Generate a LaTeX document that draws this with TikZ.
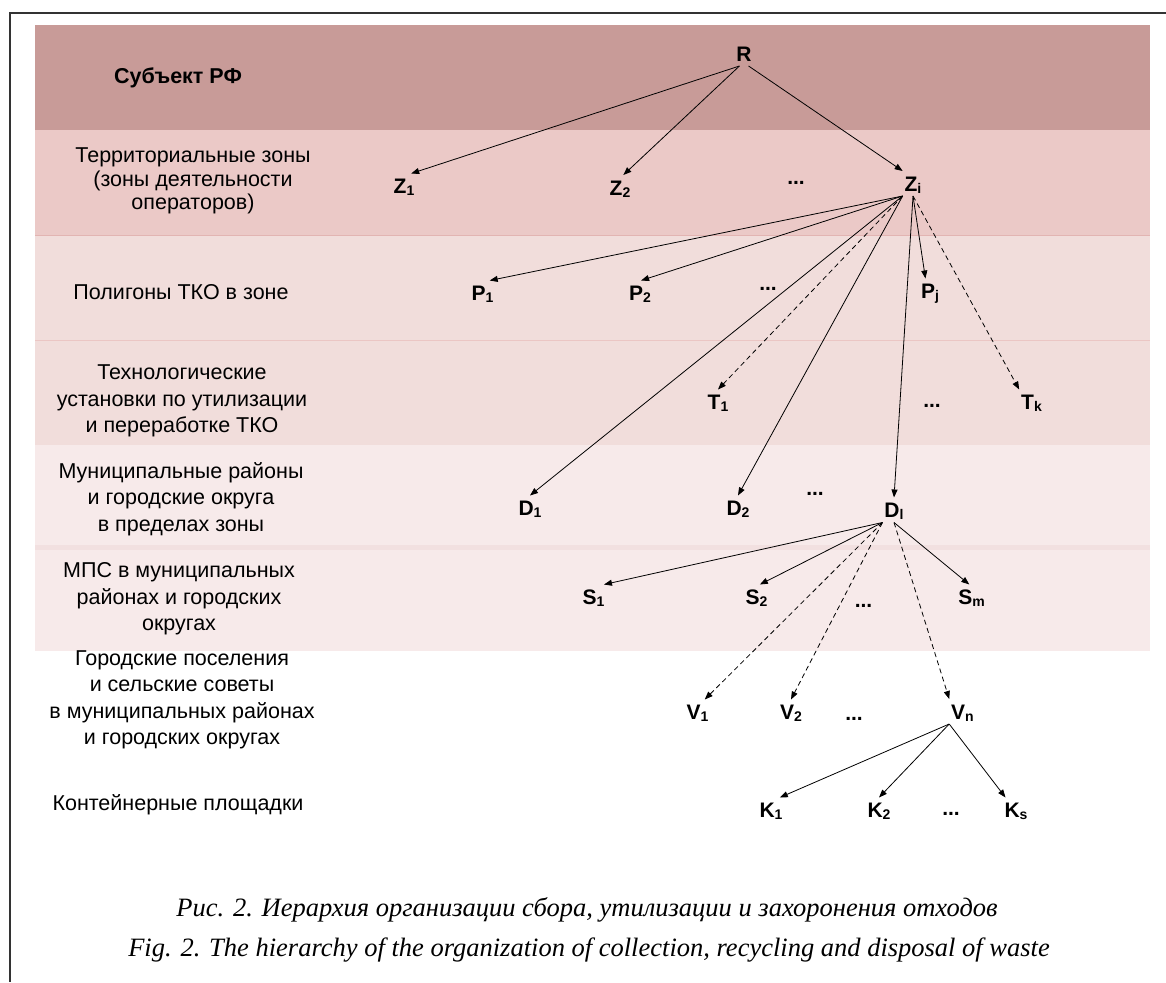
\documentclass[tikz,border=0pt]{standalone}
\usepackage{fontspec}
\setmainfont{Liberation Sans}
\newfontfamily\capfont{Liberation Serif}
\usetikzlibrary{arrows.meta}
\definecolor{bandA}{HTML}{C89B98}
\definecolor{bandB}{HTML}{EBC9C7}
\definecolor{bandC}{HTML}{F1DDDB}
\definecolor{bandD}{HTML}{F7EAEA}
\definecolor{stripD}{HTML}{F2E0E0}
\definecolor{sepB}{HTML}{E2B4B2}
\definecolor{sepC}{HTML}{EBC6C4}
\definecolor{framec}{HTML}{333333}
\newcommand{\lsub}[2]{#1\raisebox{-2pt}{\fontsize{14}{14}\selectfont #2}}
\tikzset{
  nd/.style={font=\bfseries\fontsize{21}{21}\selectfont, inner xsep=2pt, inner ysep=5pt, outer sep=0pt, text height=15pt, text depth=0pt},
  dots/.style={font=\bfseries\fontsize{21}{21}\selectfont, inner sep=0pt, anchor=base},
  lbl/.style={font=\fontsize{21.5}{26.5}\selectfont, align=center, inner sep=0pt},
  arr/.style={-{Triangle[length=8pt,width=6pt]}, line width=0.8pt},
  dsh/.style={arr, dash pattern=on 5pt off 3.5pt},
  capt/.style={font=\capfont\itshape\fontsize{26.5}{26.5}\selectfont, inner sep=0pt}
}
\begin{document}
\begin{tikzpicture}[x=1pt,y=-1pt]
\useasboundingbox (0,0) rectangle (1166,982);
% bands
\fill[bandA] (35,25) rectangle (1150,130);
\fill[bandB] (35,130) rectangle (1150,235);
\fill[bandC] (35,235) rectangle (1150,445);
\fill[bandD] (35,445) rectangle (1150,651);
\fill[stripD] (35,545) rectangle (1150,550);
\draw[sepB, line width=1pt] (35,235) -- (1150,235);
\draw[sepC, line width=1pt] (35,340) -- (1150,340);
% frame
\draw[framec, line width=1.3pt] (1166,13) -- (10,13) -- (10,982);
% left labels
\node[lbl, font=\bfseries\fontsize{21.5}{26.5}\selectfont] (l1) at (178,78) {Субъект РФ};
\node[lbl, font=\fontsize{21.5}{23.3}\selectfont] (l2) at (193,181) {Территориальные зоны\\(зоны деятельности\\операторов)};
\node[lbl] (l3) at (181,292) {Полигоны ТКО в зоне};
\node[lbl] (l4) at (182,401) {Технологические\\установки по утилизации\\и переработке ТКО};
\node[lbl] (l5) at (181,499) {Муниципальные районы\\и городские округа\\в пределах зоны};
\node[lbl] (l6) at (179,599) {МПС в муниципальных\\районах и городских\\округах};
\node[lbl] (l7) at (182,700) {Городские поселения\\и сельские советы\\в муниципальных районах\\и городских округах};
\node[lbl] (l8) at (178,805) {Контейнерные площадки};
% nodes
\node[nd] (R) at (744,53.5) {R};
\node[nd] (Z1) at (404,186) {\lsub{Z}{1}};
\node[nd] (Z2) at (620,187.5) {\lsub{Z}{2}};
\node[nd] (Zi) at (913,183.5) {\lsub{Z}{i}};
\node[nd] (P1) at (482.5,293) {\lsub{P}{1}};
\node[nd] (P2) at (640,293) {\lsub{P}{2}};
\node[nd] (Pj) at (930,291) {\lsub{P}{j}};
\node[nd] (T1) at (718,402) {\lsub{T}{1}};
\node[nd] (Tk) at (1031.5,402) {\lsub{T}{k}};
\node[nd] (D1) at (530,508) {\lsub{D}{1}};
\node[nd] (D2) at (738,508) {\lsub{D}{2}};
\node[nd] (Dl) at (894,510) {\lsub{D}{l}};
\node[nd] (S1) at (593.5,597) {\lsub{S}{1}};
\node[nd] (S2) at (756.5,597) {\lsub{S}{2}};
\node[nd] (Sm) at (971.5,597) {\lsub{S}{m}};
\node[nd] (V1) at (697.5,712) {\lsub{V}{1}};
\node[nd] (V2) at (791,712) {\lsub{V}{2}};
\node[nd] (Vn) at (962.5,711.5) {\lsub{V}{n}};
\node[nd] (K1) at (771,810) {\lsub{K}{1}};
\node[nd] (K2) at (879,810) {\lsub{K}{2}};
\node[nd] (Ks) at (1016,810) {\lsub{K}{s}};
% ellipses
\node[dots] (dZ) at (796,184) {...};
\node[dots] (dP) at (768,290) {...};
\node[dots] (dT) at (932,407) {...};
\node[dots] (dD) at (815,495) {...};
\node[dots] (dS) at (863.5,607) {...};
\node[dots] (dV) at (854,720) {...};
\node[dots] (dK) at (951,815) {...};
% edges
\draw[arr] (R.-110) -- (Z1.60);
\draw[arr] (R.-110) -- (Z2.75);
\draw[arr] (R.-70) -- (Zi.north west);
\draw[arr] (Zi.south west) -- (P1.60);
\draw[arr] (Zi.south west) -- (P2.85);
\draw[arr] (Zi.south west) -- (D1.north);
\draw[dsh] (Zi.south west) -- (T1.north);
\draw[arr] (Zi.south west) -- (D2.north);
\draw[arr] (Zi.south) -- (Dl.north);
\draw[arr] (Zi.south) -- (Pj.110);
\draw[dsh] (Zi.south) -- (Tk.north west);
\draw[arr] (Dl.south west) -- (S1.50);
\draw[arr] (Dl.south west) -- (S2.75);
\draw[dsh] (Dl.south west) -- (V1.60);
\draw[dsh] (Dl.south west) -- (V2.north);
\draw[arr] (Dl.south) -- (Sm.100);
\draw[dsh] (Dl.south) -- (Vn.north west);
\draw[arr] (Vn.south west) -- (K1.55);
\draw[arr] (Vn.south west) -- (K2.north);
\draw[arr] (Vn.south west) -- (Ks.130);
% caption
\node[capt] (c1) at (587,910) {Рис. 2. Иерархия организации сбора, утилизации и захоронения отходов};
\node[capt] (c2) at (589,950) {Fig. 2. The hierarchy of the organization of collection, recycling and disposal of waste};
\end{tikzpicture}
\end{document}
